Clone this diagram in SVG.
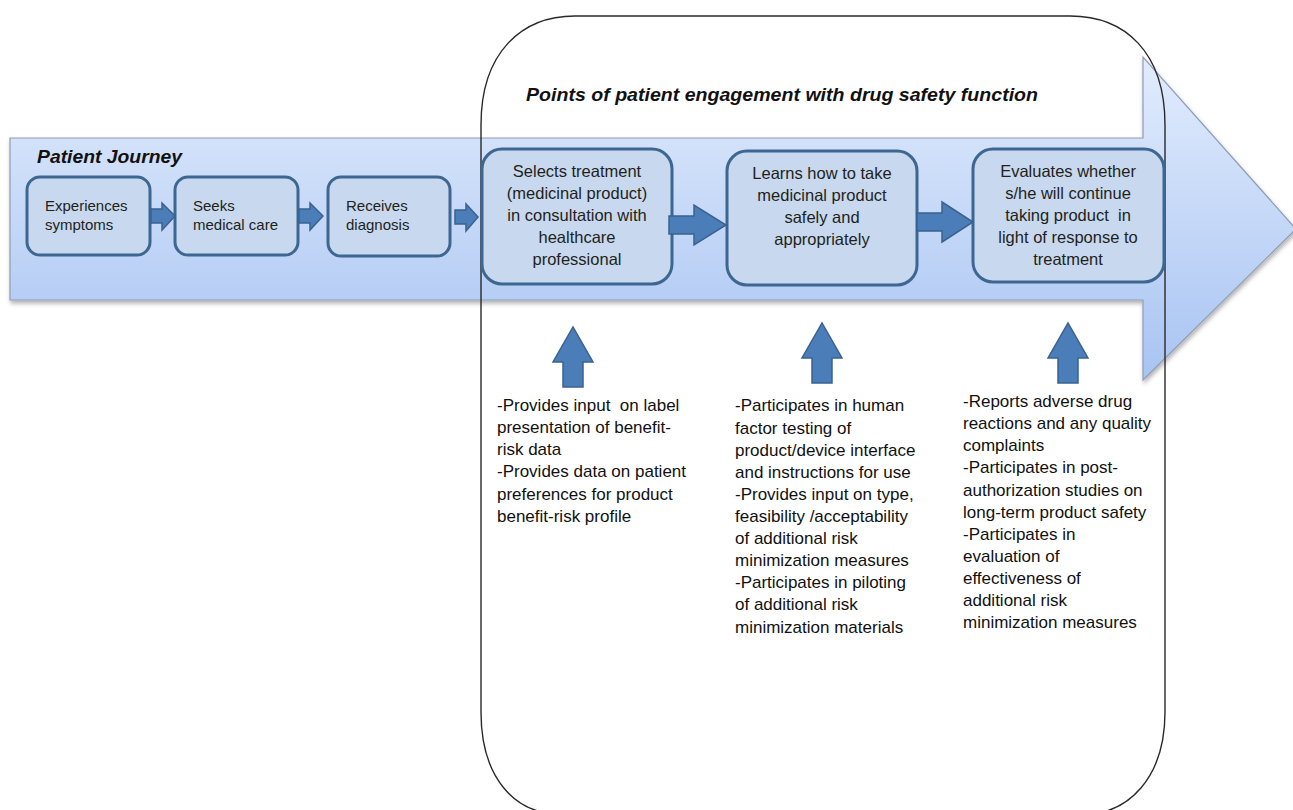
<svg xmlns="http://www.w3.org/2000/svg" width="1293" height="810" viewBox="0 0 1293 810">
  <defs>
    <linearGradient id="bandFill" x1="0" y1="57" x2="0" y2="380" gradientUnits="userSpaceOnUse">
      <stop offset="0" stop-color="#e2ecfd"/>
      <stop offset="1" stop-color="#a8c4f2"/>
    </linearGradient>
    <filter id="shadow" x="-5%" y="-10%" width="110%" height="130%">
      <feDropShadow dx="1" dy="3" stdDeviation="2" flood-color="#000" flood-opacity="0.3"/>
    </filter>
  </defs>
  <style>
    .step { fill: #c7d8ef; stroke: #3d6691; stroke-width: 3; }
    .txt { font-family: "Liberation Sans", Arial, sans-serif; fill: #231f1a; white-space: pre; }
    .small { font-size: 15px; }
    .mid { font-size: 16.5px; text-anchor: middle; }
    .note { font-size: 17px; fill: #111; }
    .head { font-family: "Liberation Sans", Arial, sans-serif; font-weight: bold; font-style: italic; fill: #111; }
    .flow { fill: #4b7db9; stroke: #3a6290; stroke-width: 1.5; }
  </style>

  <rect width="1293" height="810" fill="#ffffff"/>

  <!-- journey band with arrow head -->
  <g id="journey-band">
    <polygon points="10,138 1143,138 1143,57 1296,229 1143,380 1143,300 10,300" fill="url(#bandFill)" stroke="#8e9db5" stroke-width="1.2" filter="url(#shadow)"/>
    <text class="head" x="37" y="163" font-size="19" textLength="145" lengthAdjust="spacingAndGlyphs">Patient Journey</text>
  </g>

  <!-- engagement frame -->
  <g id="engagement-frame">
    <path d="M481,125 C481,52 522,16 575,16 L1070,16 C1125,16 1165,52 1165,125 L1165,712 C1165,778 1128,814 1085,814 L560,814 C515,814 481,778 481,712 Z" fill="none" stroke="#2a2a2a" stroke-width="1.4"/>
    <text class="head" x="526" y="101" font-size="18.5" textLength="512" lengthAdjust="spacingAndGlyphs">Points of patient engagement with drug safety function</text>
  </g>

  <!-- journey steps -->
  <g id="step-symptoms">
    <rect class="step" x="27" y="177" width="123" height="78" rx="13"/>
    <text class="txt small" x="45" y="211">Experiences</text>
    <text class="txt small" x="45" y="230">symptoms</text>
  </g>
  <g id="step-care">
    <rect class="step" x="175" y="177" width="123" height="78" rx="13"/>
    <text class="txt small" x="193" y="211">Seeks</text>
    <text class="txt small" x="193" y="230">medical care</text>
  </g>
  <g id="step-diagnosis">
    <rect class="step" x="328" y="177" width="122" height="79" rx="13"/>
    <text class="txt small" x="346" y="211">Receives</text>
    <text class="txt small" x="346" y="230">diagnosis</text>
  </g>
  <g id="step-select">
    <rect class="step" x="482" y="149" width="190" height="135" rx="20"/>
    <text class="txt mid" x="577" y="177">Selects treatment</text>
    <text class="txt mid" x="577" y="199">(medicinal product)</text>
    <text class="txt mid" x="577" y="221">in consultation with</text>
    <text class="txt mid" x="577" y="243">healthcare</text>
    <text class="txt mid" x="577" y="265">professional</text>
  </g>
  <g id="step-learn">
    <rect class="step" x="727" y="151" width="190" height="134" rx="20"/>
    <text class="txt mid" x="822" y="179">Learns how to take</text>
    <text class="txt mid" x="822" y="201">medicinal product</text>
    <text class="txt mid" x="822" y="223">safely and</text>
    <text class="txt mid" x="822" y="245">appropriately</text>
  </g>
  <g id="step-evaluate">
    <rect class="step" x="973" y="149" width="191" height="133" rx="20"/>
    <text class="txt mid" x="1068" y="177">Evaluates whether</text>
    <text class="txt mid" x="1068" y="199">s/he will continue</text>
    <text class="txt mid" x="1068" y="221">taking product  in</text>
    <text class="txt mid" x="1068" y="243">light of response to</text>
    <text class="txt mid" x="1068" y="265">treatment</text>
  </g>

  <!-- engagement notes -->
  <g id="notes-select">
    <text class="txt note" x="497" y="411">-Provides input  on label</text>
    <text class="txt note" x="497" y="433">presentation of benefit-</text>
    <text class="txt note" x="497" y="455">risk data</text>
    <text class="txt note" x="497" y="477">-Provides data on patient</text>
    <text class="txt note" x="497" y="500">preferences for product</text>
    <text class="txt note" x="497" y="522">benefit-risk profile</text>
  </g>
  <g id="notes-learn">
    <text class="txt note" x="735" y="411">-Participates in human</text>
    <text class="txt note" x="735" y="434">factor testing of</text>
    <text class="txt note" x="735" y="456">product/device interface</text>
    <text class="txt note" x="735" y="478">and instructions for use</text>
    <text class="txt note" x="735" y="500">-Provides input on type,</text>
    <text class="txt note" x="735" y="522">feasibility /acceptability</text>
    <text class="txt note" x="735" y="544">of additional risk</text>
    <text class="txt note" x="735" y="566">minimization measures</text>
    <text class="txt note" x="735" y="588">-Participates in piloting</text>
    <text class="txt note" x="735" y="610">of additional risk</text>
    <text class="txt note" x="735" y="633">minimization materials</text>
  </g>
  <g id="notes-evaluate">
    <text class="txt note" x="963" y="407">-Reports adverse drug</text>
    <text class="txt note" x="963" y="429">reactions and any quality</text>
    <text class="txt note" x="963" y="451">complaints</text>
    <text class="txt note" x="963" y="473">-Participates in post-</text>
    <text class="txt note" x="963" y="496">authorization studies on</text>
    <text class="txt note" x="963" y="518">long-term product safety</text>
    <text class="txt note" x="963" y="540">-Participates in</text>
    <text class="txt note" x="963" y="562">evaluation of</text>
    <text class="txt note" x="963" y="584">effectiveness of</text>
    <text class="txt note" x="963" y="606">additional risk</text>
    <text class="txt note" x="963" y="628">minimization measures</text>
  </g>

  <!-- connectors -->
  <g id="connectors">
    <path class="flow" d="M151,209 L162,209 L162,203 L175,216 L162,230 L162,223 L151,223 Z"/>
    <path class="flow" d="M299,209 L310,209 L310,203 L323,216 L310,230 L310,223 L299,223 Z"/>
    <path class="flow" d="M455,210 L466,210 L466,204 L478,217 L466,231 L466,224 L455,224 Z"/>
    <path class="flow" d="M669,216 L694,216 L694,205 L726,225 L694,245 L694,234 L669,234 Z"/>
    <path class="flow" d="M917,213 L942,213 L942,202 L973,222 L942,242 L942,231 L917,231 Z"/>
    <path class="flow" d="M563,387 L563,362 L553,362 L573,327 L593,362 L583,362 L583,387 Z"/>
    <path class="flow" d="M812,383 L812,358 L802,358 L822,323 L842,358 L832,358 L832,383 Z"/>
    <path class="flow" d="M1058,383 L1058,358 L1048,358 L1068,323 L1088,358 L1078,358 L1078,383 Z"/>
  </g>
</svg>
